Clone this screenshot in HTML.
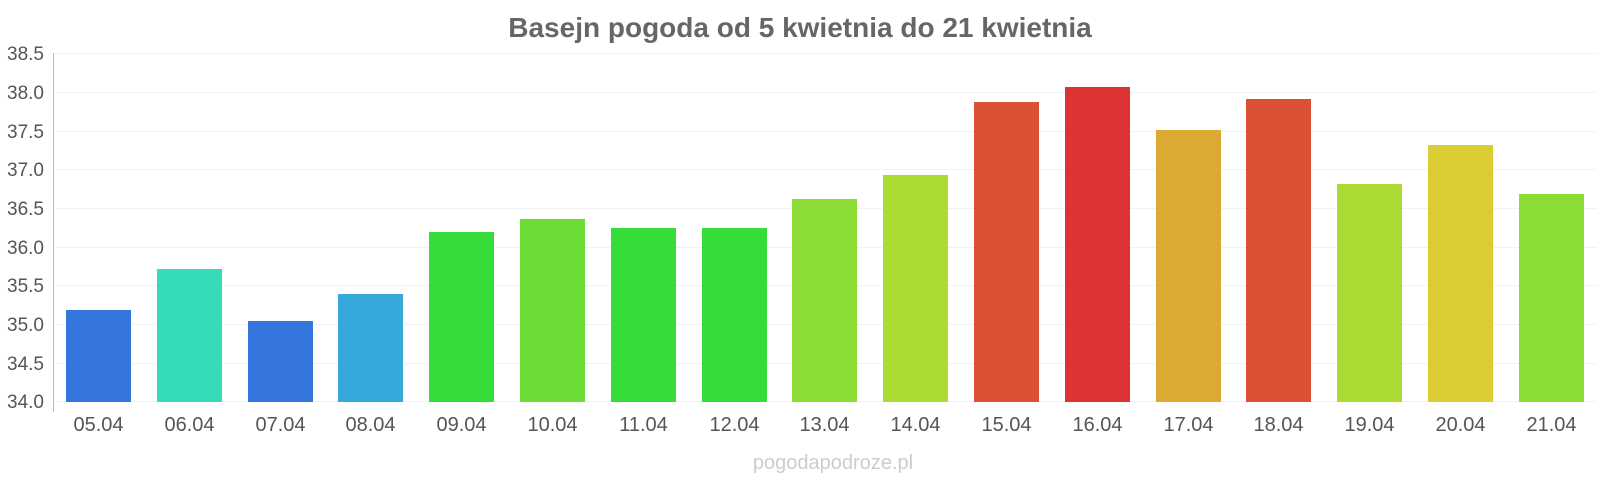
<!DOCTYPE html>
<html><head><meta charset="utf-8"><style>
html,body{margin:0;padding:0;background:#fff;}
svg{display:block;font-family:"Liberation Sans",sans-serif;}
</style></head><body>
<svg width="1600" height="480" xmlns="http://www.w3.org/2000/svg">
<text x="800" y="37" text-anchor="middle" font-size="28" font-weight="bold" fill="#666">Basejn pogoda od 5 kwietnia do 21 kwietnia</text>
<g stroke="#f2f2f2" stroke-width="1">
<line x1="53" x2="1597" y1="53.5" y2="53.5"/>
<line x1="53" x2="1597" y1="92.5" y2="92.5"/>
<line x1="53" x2="1597" y1="131.5" y2="131.5"/>
<line x1="53" x2="1597" y1="169.5" y2="169.5"/>
<line x1="53" x2="1597" y1="208.5" y2="208.5"/>
<line x1="53" x2="1597" y1="247.5" y2="247.5"/>
<line x1="53" x2="1597" y1="285.5" y2="285.5"/>
<line x1="53" x2="1597" y1="324.5" y2="324.5"/>
<line x1="53" x2="1597" y1="363.5" y2="363.5"/>
<line x1="53" x2="1597" y1="401.5" y2="401.5"/>
</g>
<line x1="53.5" x2="53.5" y1="53" y2="412" stroke="#bbb"/>
<g font-size="19" fill="#555" text-anchor="end">
<text x="44" y="60">38.5</text><text x="44" y="99">38.0</text><text x="44" y="138">37.5</text><text x="44" y="176">37.0</text><text x="44" y="215">36.5</text><text x="44" y="254">36.0</text><text x="44" y="292">35.5</text><text x="44" y="331">35.0</text><text x="44" y="370">34.5</text><text x="44" y="408">34.0</text>
</g>
<g>
<rect x="66" y="310" width="65" height="92" fill="#3476dc"/>
<rect x="157" y="269" width="65" height="133" fill="#36dcb8"/>
<rect x="248" y="321" width="65" height="81" fill="#3476dc"/>
<rect x="338" y="294" width="65" height="108" fill="#36a8dc"/>
<rect x="429" y="232" width="65" height="170" fill="#36dc3a"/>
<rect x="520" y="219" width="65" height="183" fill="#6cdc36"/>
<rect x="611" y="228" width="65" height="174" fill="#36dc3a"/>
<rect x="702" y="228" width="65" height="174" fill="#36dc3a"/>
<rect x="792" y="199" width="65" height="203" fill="#8cdc36"/>
<rect x="883" y="175" width="65" height="227" fill="#acdc34"/>
<rect x="974" y="102" width="65" height="300" fill="#dc5034"/>
<rect x="1065" y="87" width="65" height="315" fill="#dc3434"/>
<rect x="1156" y="130" width="65" height="272" fill="#dcaa34"/>
<rect x="1246" y="99" width="65" height="303" fill="#dc5034"/>
<rect x="1337" y="184" width="65" height="218" fill="#acdc34"/>
<rect x="1428" y="145" width="65" height="257" fill="#dccc34"/>
<rect x="1519" y="194" width="65" height="208" fill="#8cdc36"/>
</g>
<g font-size="20" fill="#555" text-anchor="middle">
<text x="98.5" y="431">05.04</text><text x="189.5" y="431">06.04</text><text x="280.5" y="431">07.04</text><text x="370.5" y="431">08.04</text><text x="461.5" y="431">09.04</text><text x="552.5" y="431">10.04</text><text x="643.5" y="431">11.04</text><text x="734.5" y="431">12.04</text><text x="824.5" y="431">13.04</text><text x="915.5" y="431">14.04</text><text x="1006.5" y="431">15.04</text><text x="1097.5" y="431">16.04</text><text x="1188.5" y="431">17.04</text><text x="1278.5" y="431">18.04</text><text x="1369.5" y="431">19.04</text><text x="1460.5" y="431">20.04</text><text x="1551.5" y="431">21.04</text>
</g>
<text x="833" y="469" text-anchor="middle" font-size="20" fill="#ccc">pogodapodroze.pl</text>
</svg>
</body></html>
